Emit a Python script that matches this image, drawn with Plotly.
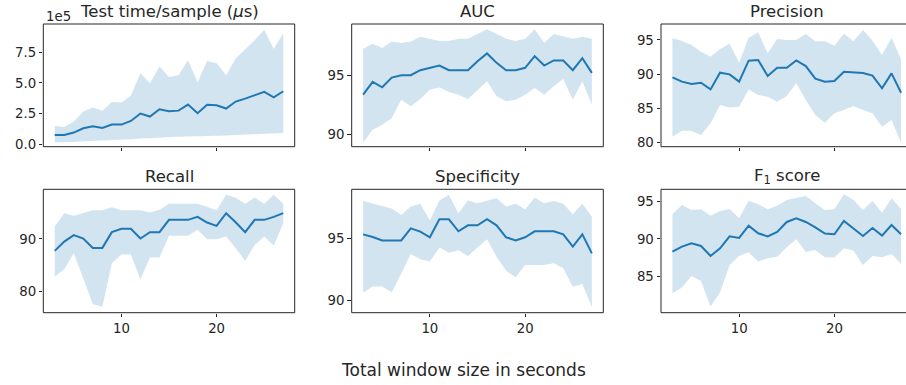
import plotly.graph_objects as go

# Total window size (seconds) shared by every panel
window = list(range(3, 28))

# Test time per sample in microseconds: mean and spread band
time_mean = [0.76e5, 0.76e5, 0.95e5, 1.30e5, 1.47e5, 1.33e5, 1.60e5, 1.60e5, 1.90e5, 2.50e5,
             2.26e5, 2.85e5, 2.69e5, 2.74e5, 3.23e5, 2.53e5, 3.21e5, 3.18e5, 2.91e5, 3.48e5,
             3.72e5, 3.99e5, 4.27e5, 3.83e5, 4.32e5]
time_upper = [1.49e5, 1.41e5, 1.85e5, 2.66e5, 2.99e5, 2.74e5, 3.45e5, 3.40e5, 3.97e5, 5.79e5,
              4.97e5, 6.33e5, 5.49e5, 5.63e5, 6.85e5, 5.05e5, 6.79e5, 6.60e5, 5.63e5, 6.98e5,
              7.74e5, 8.48e5, 9.32e5, 7.77e5, 9.05e5]
time_lower = [0.16e5, 0.16e5, 0.19e5, 0.24e5, 0.27e5, 0.27e5, 0.30e5, 0.33e5, 0.41e5, 0.46e5,
              0.46e5, 0.52e5, 0.60e5, 0.60e5, 0.63e5, 0.65e5, 0.68e5, 0.68e5, 0.71e5, 0.76e5,
              0.79e5, 0.82e5, 0.84e5, 0.90e5, 0.92e5]

auc_mean = [93.37, 94.44, 93.99, 94.80, 95.00, 95.00, 95.42, 95.62, 95.81, 95.42,
            95.42, 95.42, 96.18, 96.83, 96.04, 95.42, 95.42, 95.62, 96.60, 95.81,
            96.24, 96.24, 95.42, 96.43, 95.20]
auc_upper = [97.22, 97.64, 97.28, 97.84, 97.70, 97.84, 98.23, 98.06, 97.87, 97.87,
             98.06, 98.06, 98.46, 98.85, 98.46, 98.06, 97.87, 98.06, 98.85, 97.72,
             98.46, 98.29, 98.06, 98.23, 98.06]
auc_lower = [89.35, 90.42, 90.84, 91.40, 92.95, 92.39, 93.00, 93.79, 93.96, 93.60,
             93.37, 93.00, 93.74, 94.49, 93.23, 92.81, 92.95, 93.37, 93.93, 93.37,
             94.07, 94.69, 92.95, 94.49, 92.53]

prec_mean = [89.51, 88.88, 88.53, 88.73, 87.75, 90.20, 89.95, 88.88, 91.95, 92.05,
             89.71, 90.93, 90.93, 92.00, 91.17, 89.32, 88.88, 88.97, 90.34, 90.24,
             90.15, 89.76, 87.90, 90.10, 87.26]
prec_upper = [95.23, 94.84, 94.25, 93.27, 92.54, 93.66, 94.45, 91.66, 95.32, 96.11,
              93.03, 95.13, 94.98, 94.98, 95.86, 94.79, 94.79, 94.15, 95.91, 94.79,
              96.45, 94.89, 92.78, 95.32, 92.15]
prec_lower = [80.82, 81.70, 81.65, 81.06, 82.77, 85.46, 85.11, 85.21, 87.75, 86.92,
              86.68, 85.95, 86.78, 88.63, 86.19, 83.99, 82.87, 84.24, 84.72, 85.31,
              84.72, 84.24, 82.28, 83.26, 79.94]

rec_mean = [87.72, 89.49, 90.70, 90.06, 88.29, 88.29, 91.27, 91.90, 91.90, 90.06,
            91.27, 91.27, 93.61, 93.61, 93.61, 94.18, 93.10, 92.47, 94.87, 93.16,
            91.27, 93.61, 93.61, 94.18, 94.87]
rec_upper = [92.34, 94.87, 94.37, 94.87, 95.44, 95.44, 96.01, 95.44, 95.44, 95.44,
             95.00, 95.51, 96.65, 96.65, 96.65, 96.65, 96.08, 95.44, 98.35, 97.78,
             96.65, 97.78, 96.65, 98.35, 96.65]
rec_lower = [82.85, 84.24, 87.28, 82.53, 77.66, 77.15, 85.38, 87.03, 87.03, 82.34,
             86.46, 86.46, 90.57, 90.57, 90.57, 91.71, 89.94, 89.94, 90.44, 88.23,
             85.82, 88.86, 90.44, 88.73, 92.97]

spec_mean = [95.35, 95.14, 94.86, 94.86, 94.86, 95.84, 95.57, 95.11, 96.58, 96.58,
             95.60, 96.09, 96.09, 96.58, 96.09, 95.11, 94.86, 95.11, 95.60, 95.60,
             95.60, 95.35, 94.35, 95.35, 93.80]
spec_upper = [98.07, 97.88, 97.66, 97.45, 96.93, 97.61, 97.85, 96.47, 98.10, 98.56,
              97.07, 98.10, 97.88, 98.10, 98.29, 97.61, 97.85, 97.39, 98.34, 97.88,
              98.07, 97.85, 96.98, 97.85, 96.79]
spec_lower = [90.60, 91.11, 91.11, 90.63, 92.17, 93.75, 93.32, 93.13, 94.27, 93.86,
              94.05, 93.59, 94.27, 94.95, 93.53, 92.39, 91.85, 92.85, 92.85, 92.85,
              92.99, 92.58, 91.09, 91.30, 89.46]

f1_mean = [88.32, 88.98, 89.42, 89.07, 87.74, 88.76, 90.35, 90.13, 91.77, 90.75,
           90.35, 90.93, 92.26, 92.74, 92.26, 91.55, 90.71, 90.62, 92.39, 91.42,
           90.40, 91.46, 90.44, 91.86, 90.62]
f1_upper = [93.27, 94.51, 93.85, 93.94, 93.10, 93.72, 93.98, 92.74, 95.09, 94.60,
            93.94, 94.42, 95.18, 95.40, 95.71, 94.73, 93.85, 93.94, 95.93, 95.18,
            93.85, 95.04, 93.50, 95.40, 93.98]
f1_lower = [82.79, 83.54, 85.09, 84.42, 81.02, 82.88, 86.55, 87.74, 88.23, 86.99,
            87.43, 87.65, 88.89, 89.96, 88.27, 88.54, 87.57, 87.52, 88.76, 88.45,
            86.55, 87.74, 87.57, 88.01, 86.68]

titles = ["Test time/sample (<i>μ</i>s)", "AUC", "Precision",
          "Recall", "Specificity", "F<sub>1</sub> score"]

time_ticks = [0, 2.5e5, 5.0e5, 7.5e5]
time_tick_labels = ["0.0", "2.5", "5.0", "7.5"]
y_ticks = [time_ticks, [90, 95], [80, 85, 90, 95], [80, 90], [90, 95], [85, 90, 95]]
x_ticks = [10, 20]

panels = [
    (time_mean, time_upper, time_lower),
    (auc_mean, auc_upper, auc_lower),
    (prec_mean, prec_upper, prec_lower),
    (rec_mean, rec_upper, rec_lower),
    (spec_mean, spec_upper, spec_lower),
    (f1_mean, f1_upper, f1_lower),
]

W, H = 906, 385
LINE = "#1f77b4"
BAND = "rgba(31,119,180,0.2)"
INK = "#262626"

# Pixel geometry of the axes boxes
col_px = [(43.3, 294.7), (351.7, 603.3), (661.0, 912.5)]
row_px = [(24.0, 146.7), (189.3, 312.7)]
x_full = [1.8, 28.2]
y_ranges = [[-0.2e5, 9.8e5], [89.0, 99.3], [79.35, 97.33],
            [76.0, 99.4], [88.97, 99.02], [80.2, 96.6]]

fig = go.Figure()
layout = dict(
    width=W, height=H,
    margin=dict(l=0, r=0, t=0, b=0),
    paper_bgcolor="white", plot_bgcolor="white",
    showlegend=False,
    font=dict(family="DejaVu Sans", color=INK, size=13.3),
)
annotations = []
shapes = []

for i, (mean, upper, lower) in enumerate(panels):
    r, c = divmod(i, 3)
    n = i + 1
    xa = "x" if n == 1 else f"x{n}"
    ya = "y" if n == 1 else f"y{n}"

    fig.add_trace(go.Scatter(x=window, y=lower, xaxis=xa, yaxis=ya, mode="lines",
                             line=dict(width=0, color=BAND), hoverinfo="skip"))
    fig.add_trace(go.Scatter(x=window, y=upper, xaxis=xa, yaxis=ya, mode="lines",
                             line=dict(width=0, color=BAND), fill="tonexty",
                             fillcolor=BAND, hoverinfo="skip"))
    fig.add_trace(go.Scatter(x=window, y=mean, xaxis=xa, yaxis=ya, mode="lines",
                             line=dict(width=2, color=LINE)))

    x0p, x1p = col_px[c]
    y0p, y1p = row_px[r]
    full_w = x1p - x0p
    x1_vis = min(x1p, W)
    dom_x = [x0p / W, x1_vis / W]
    xr = [x_full[0], x_full[0] + (x1_vis - x0p) / full_w * (x_full[1] - x_full[0])]
    dom_y = [1 - y1p / H, 1 - y0p / H]

    layout["xaxis" if n == 1 else f"xaxis{n}"] = dict(
        domain=dom_x, anchor=ya, range=xr, tickvals=x_ticks,
        showticklabels=(r == 1), ticks="outside", ticklen=3.5, tickwidth=1,
        tickcolor=INK, showgrid=False, zeroline=False, showline=False,
        automargin=False, tickfont=dict(size=13.3, color=INK),
    )
    yax = dict(
        domain=dom_y, anchor=xa, range=y_ranges[i], tickvals=y_ticks[i],
        ticks="outside", ticklen=3.5, tickwidth=1, tickcolor=INK,
        showgrid=False, zeroline=False, showline=False, automargin=False,
        tickfont=dict(size=13.3, color=INK),
    )
    if i == 0:
        yax["ticktext"] = time_tick_labels
    layout["yaxis" if n == 1 else f"yaxis{n}"] = yax

    # axes frame
    shapes.append(dict(type="rect", xref=f"{xa} domain", yref=f"{ya} domain",
                       x0=0, x1=full_w / (x1_vis - x0p), y0=0, y1=1,
                       line=dict(color=INK, width=1), layer="above"))

    # panel title
    annotations.append(dict(text=titles[i], xref="paper", yref="paper",
                            x=(x0p + full_w / 2) / W, y=1 - (y0p - 12.5) / H,
                            xanchor="center", yanchor="middle", showarrow=False,
                            font=dict(size=16.5, color=INK)))

# scale factor of the first panel's y axis
annotations.append(dict(text="1e5", xref="paper", yref="paper", x=43.5 / W, y=1 - 16 / H,
                        xanchor="left", yanchor="middle", showarrow=False,
                        font=dict(size=13.3, color=INK)))
# shared x-axis label
annotations.append(dict(text="Total window size in seconds", xref="paper", yref="paper",
                        x=463.8 / W, y=1 - 370 / H, xanchor="center", yanchor="middle",
                        showarrow=False, font=dict(size=17, color=INK)))

layout["annotations"] = annotations
layout["shapes"] = shapes
fig.update_layout(**layout)
fig.write_html("out.html")
